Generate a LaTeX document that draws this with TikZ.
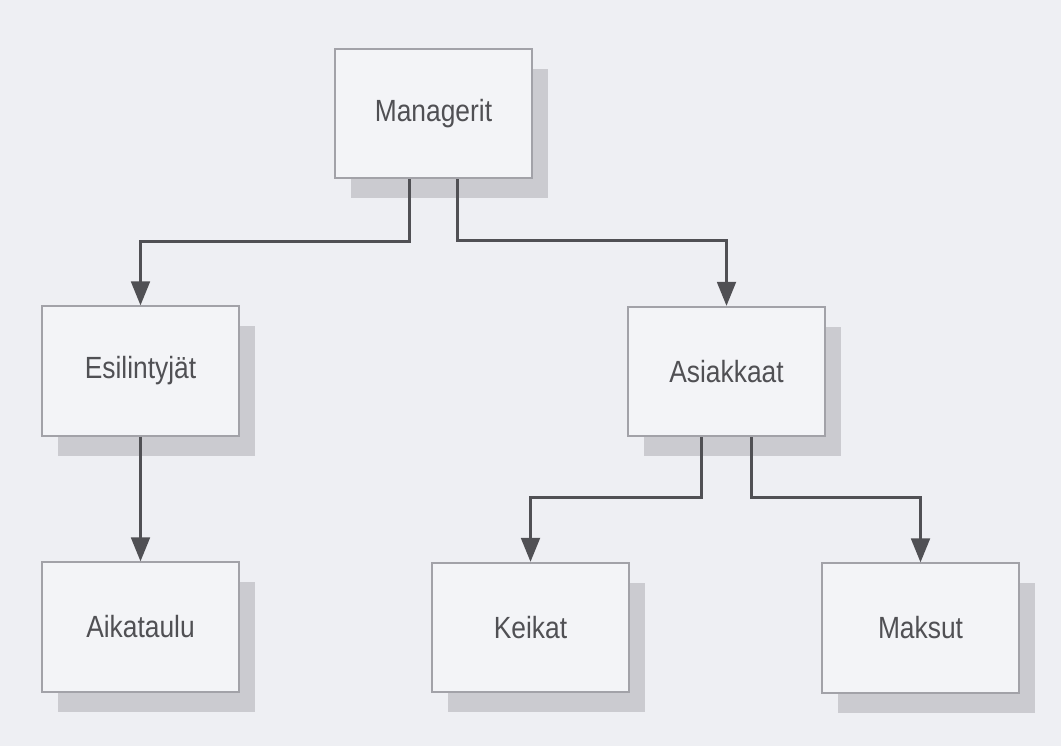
\documentclass[tikz,border=0pt]{standalone}
\usepackage{fontspec}
\newfontfamily\boxfont[FakeStretch=0.86]{Liberation Sans}
\usetikzlibrary{arrows.meta,calc,shadows}
\definecolor{bg}{HTML}{EEEFF3}
\definecolor{boxfill}{HTML}{F3F4F7}
\definecolor{boxline}{HTML}{A2A2A8}
\definecolor{shade}{HTML}{CBCBD0}
\definecolor{ink}{HTML}{505054}
\begin{document}
\begin{tikzpicture}[x=0.75pt,y=-0.75pt,
  entity/.style={draw=boxline, line width=1.4pt, fill=boxfill,
    minimum width=147.75pt, minimum height=97pt, inner sep=0pt,
    font=\boxfont\fontsize{23pt}{26pt}\selectfont, text=ink,
    drop shadow={shadow xshift=12pt, shadow yshift=-15pt, fill=shade, opacity=1}},
  conn/.style={draw=ink, line width=2.2pt,
    -{Triangle[length=18pt,width=14pt]}}]
\useasboundingbox (0,0) rectangle (1061,746);
\fill[bg] (0,0) rectangle (1061,746);

\node[entity] (M)  at (433.5,113.5) {Managerit};
\node[entity] (E)  at (140.5,371)   {Esilintyjät};
\node[entity] (A)  at (726.5,371.5) {Asiakkaat};
\node[entity] (Ai) at (140.5,627)   {Aikataulu};
\node[entity] (K)  at (530.5,627.5) {Keikat};
\node[entity] (Ma) at (920.5,628)   {Maksut};

\draw[conn] ($(M.south)+(-24,0)$) |- ($(E.north)+(0,-64)$) -- (E.north);
\draw[conn] ($(M.south)+(24,0)$) |- ($(A.north)+(0,-65)$) -- (A.north);
\draw[conn] (E.south) -- (Ai.north);
\draw[conn] ($(A.south)+(-25,0)$) |- ($(K.north)+(0,-64)$) -- (K.north);
\draw[conn] ($(A.south)+(25,0)$) |- ($(Ma.north)+(0,-65)$) -- (Ma.north);
\end{tikzpicture}
\end{document}
